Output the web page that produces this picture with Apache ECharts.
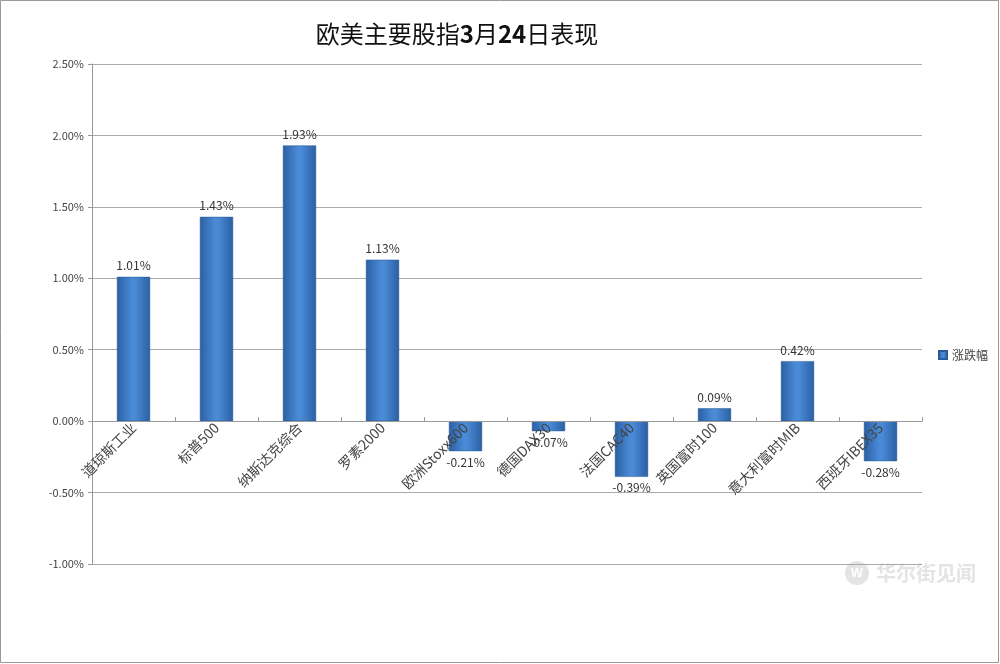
<!DOCTYPE html>
<html>
<head>
<meta charset="utf-8">
<script src="https://cdn.jsdelivr.net/npm/echarts@6/dist/echarts.min.js"></script>
<style>
  html, body { margin: 0; padding: 0; background: #fff; }
  #chart { width: 1000px; height: 664px; }
</style>
</head>
<body>
<div id="chart"></div>
<script>
// 数据
const categories = ['道琼斯工业', '标普500', '纳斯达克综合', '罗素2000', '欧洲Stoxx600',
  '德国DAX30', '法国CAC40', '英国富时100', '意大利富时MIB', '西班牙IBEX35'];
const changePct = [1.01, 1.43, 1.93, 1.13, -0.21, -0.07, -0.39, 0.09, 0.42, -0.28];
const seriesName = '涨跌幅';

const myChart = echarts.init(document.getElementById('chart'));

const yMin = -1, yMax = 2.5;
const gridTop = 64, gridBottom = 100, chartH = 664;
// x轴放在0值位置
const plotH = chartH - gridTop - gridBottom;
const zeroOffset = -plotH * (0 - yMin) / (yMax - yMin);

const barColor = new echarts.graphic.LinearGradient(0, 0, 1, 0, [
  { offset: 0, color: '#2b5fa3' },
  { offset: 0.45, color: '#4a8ad6' },
  { offset: 0.55, color: '#4a8ad6' },
  { offset: 1, color: '#2b5fa3' }
]);

const option = {
  backgroundColor: '#fff',
  textStyle: { fontFamily: '"Noto Sans CJK SC", sans-serif' },
  title: {
    text: '欧美主要股指{b|3}月{b|24}日表现',
    left: 452,
    top: 17,
    textAlign: 'center',
    textStyle: {
      fontSize: 24,
      fontWeight: 'normal',
      color: '#111',
      rich: {
        b: { fontSize: 24, fontWeight: 'bold', color: '#111' }
      }
    }
  },
  legend: {
    orient: 'vertical',
    left: 933,
    top: 344,
    itemWidth: 8,
    itemHeight: 8,
    itemGap: 4,
    icon: 'rect',
    textStyle: { fontSize: 12, color: '#444' },
    data: [seriesName]
  },
  grid: { left: 92, right: 78, top: gridTop, bottom: gridBottom },
  xAxis: {
    type: 'category',
    data: categories,
    offset: zeroOffset,
    z: 10,
    axisLine: { onZero: false, lineStyle: { color: '#999' } },
    axisTick: { show: true, inside: true, length: 4, lineStyle: { color: '#999' } },
    axisLabel: {
      interval: 0,
      rotate: 45,
      fontSize: 14,
      color: '#444',
      margin: 4
    }
  },
  yAxis: {
    type: 'value',
    min: yMin,
    max: yMax,
    interval: 0.5,
    axisLine: { show: true, lineStyle: { color: '#999' } },
    axisTick: { show: true, length: 4, lineStyle: { color: '#999' } },
    axisLabel: {
      fontSize: 11,
      color: '#444',
      margin: 8,
      formatter: v => v.toFixed(2) + '%'
    },
    splitLine: { lineStyle: { color: '#aaa' } }
  },
  series: [{
    name: seriesName,
    type: 'bar',
    barWidth: '40%',
    // 负值标签放在柱子下方
    data: changePct.map(v => ({
      value: v,
      label: { position: v < 0 ? 'bottom' : 'top' }
    })),
    itemStyle: {
      color: barColor,
      borderColor: '#2a5a98',
      borderWidth: 0.5
    },
    label: {
      show: true,
      fontSize: 12,
      color: '#333',
      formatter: p => Number(p.value).toFixed(2) + '%'
    }
  }],
  graphic: [
    {
      type: 'rect',
      shape: { x: 0.5, y: 0.5, width: 998, height: 662 },
      style: { fill: 'none', stroke: '#999', lineWidth: 1 },
      silent: true
    },
    {
      type: 'group',
      left: 845,
      top: 561,
      silent: true,
      children: [
        { type: 'circle', shape: { cx: 12, cy: 12, r: 12 }, style: { fill: '#e4e4e4' } },
        { type: 'text', style: { x: 12, y: 12, text: 'W', fill: '#fff', font: 'bold 13px sans-serif', align: 'center', verticalAlign: 'middle' } },
        { type: 'text', style: { x: 31, y: 12, text: '华尔街见闻', fill: '#e4e4e4', font: 'bold 20px "Noto Sans CJK SC"', verticalAlign: 'middle' } }
      ]
    }
  ]
};

myChart.setOption(option);
window.addEventListener('resize', function () { myChart.resize(); });
</script>
</body>
</html>
